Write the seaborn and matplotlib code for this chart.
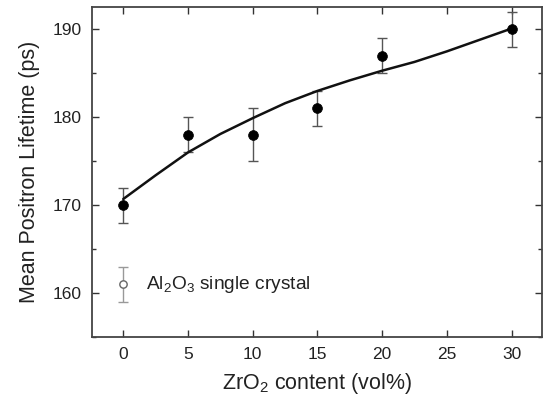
import matplotlib
matplotlib.use("Agg")
import matplotlib.pyplot as plt
import seaborn as sns
import pandas as pd
from matplotlib.ticker import MultipleLocator

# Data
zro2 = [0, 5, 10, 15, 20, 30]
lifetime = [170.0, 178.0, 178.0, 181.0, 187.0, 190.0]
lifetime_err = [2.0, 2.0, 3.0, 2.0, 2.0, 2.0]

crystal_x = [0]
crystal_y = [161.0]
crystal_err = [2.0]

fit_x = [0, 2.5, 5, 7.5, 10, 12.5, 15, 17.5, 20, 22.5, 25, 27.5, 30]
fit_y = [170.7, 173.4, 176.0, 178.1, 179.9, 181.6, 183.0, 184.2, 185.3, 186.3, 187.5, 188.8, 190.1]

xticks = [0, 5, 10, 15, 20, 25, 30]
yticks = [160, 170, 180, 190]

sns.set_theme(style="ticks")
plt.rcParams['font.family'] = ['Liberation Sans', 'DejaVu Sans']
plt.rcParams['mathtext.default'] = 'regular'

fig = plt.figure(figsize=(5.5, 3.99), dpi=100)
ax = fig.add_axes([0.1667, 0.1554, 0.8188, 0.8271])

df = pd.DataFrame({"x": zro2, "y": lifetime})
fit = pd.DataFrame({"x": fit_x, "y": fit_y})
cr = pd.DataFrame({"x": crystal_x, "y": crystal_y})

ax.errorbar(zro2, lifetime, yerr=lifetime_err, fmt='none', ecolor='#555555',
            elinewidth=1.0, capsize=3.5, capthick=1.0, zorder=2)
ax.errorbar(crystal_x, crystal_y, yerr=crystal_err, fmt='none', ecolor='#999999',
            elinewidth=1.0, capsize=3.5, capthick=1.0, zorder=2)
sns.lineplot(data=fit, x="x", y="y", ax=ax, color='#111111', linewidth=1.8, zorder=3)
sns.scatterplot(data=df, x="x", y="y", ax=ax, color='#000000', s=50,
                edgecolor='#000000', linewidth=0.5, zorder=4)
sns.scatterplot(data=cr, x="x", y="y", ax=ax, facecolor='white', s=28,
                edgecolor='#666666', linewidth=1.0, zorder=4)

ax.text(1.75, 161.0, r'Al$_2$O$_3$ single crystal', fontsize=13.8, color='#222222',
        va='center', ha='left')

ax.set_xlim(-2.44, 32.35)
ax.set_ylim(155.0, 192.55)
ax.set_xticks(xticks)
ax.set_yticks(yticks)
ax.xaxis.set_minor_locator(MultipleLocator(5))
ax.yaxis.set_minor_locator(MultipleLocator(5))
ax.tick_params(which='both', direction='in', top=True, right=True,
               labelsize=12.5, colors='#333333', labelcolor='#222222')
ax.tick_params(which='major', length=5, width=1, pad=7)
ax.tick_params(which='minor', length=3, width=1)
ax.set_xticklabels([str(t) for t in xticks])
for s in ax.spines.values():
    s.set_color('#444444')
    s.set_linewidth(1.3)

ax.set_xlabel(r'ZrO$_2$ content (vol%)', fontsize=15.5, color='#222222', labelpad=7)
ax.set_ylabel('Mean Positron Lifetime (ps)', fontsize=15.5, color='#222222', labelpad=9)

fig.savefig("out.png", dpi=100)
